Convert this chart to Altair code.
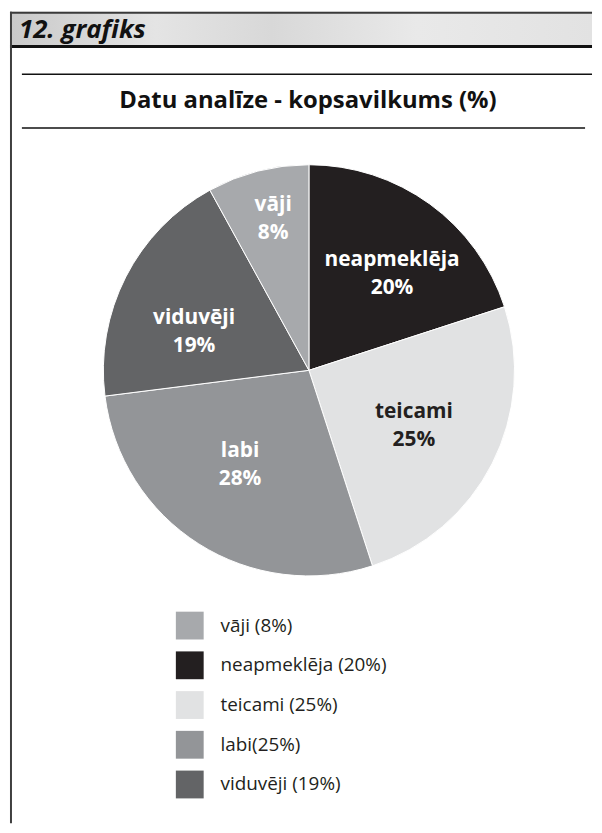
import altair as alt
import pandas as pd

# ---- data ----
categories = ["neapmeklēja", "teicami", "labi", "viduvēji", "vāji"]   # clockwise from 12 o'clock
values = [20, 25, 28, 19, 8]
pct_labels = ["20%", "25%", "28%", "19%", "8%"]
legend_labels = ["\u00a0neapmeklēja (20%)", "teicami (25%)", "labi(25%)", "\u00a0viduvēji (19%)", "vāji (8%)"]
legend_order = ["vāji (8%)", "\u00a0neapmeklēja (20%)", "teicami (25%)", "labi(25%)", "\u00a0viduvēji (19%)"]
legend_colors = ["#a7a9ac", "#231f20", "#e1e2e3", "#939598", "#636466"]

header_text = "12. grafiks"
title_text = "Datu analīze - kopsavilkums (%)"

FONT = "Open Sans"
W, H = 586, 817
CX, CY, R = 301, 361, 207

df = pd.DataFrame({
    "idx": list(range(len(categories))),
    "cat": categories,
    "value": values,
    "pct": pct_labels,
    "legend": legend_labels,
})
df["label"] = df["cat"] + "\n" + df["pct"]

one = pd.DataFrame({"a": [0]})

theta_scale = alt.Scale(domain=[0, 100])

base = alt.Chart(df).transform_window(
    cum="sum(value)", sort=[alt.SortField("idx")], frame=[None, 0]
).transform_calculate(
    start="datum.cum - datum.value",
    mid="datum.cum - datum.value / 2",
)

pie = base.mark_arc(radius=R, stroke="white", strokeWidth=1).encode(
    x=alt.value(CX), y=alt.value(CY),
    theta=alt.Theta("start:Q", scale=theta_scale, stack=False),
    theta2="cum:Q",
    color=alt.Color(
        "legend:N",
        scale=alt.Scale(domain=legend_order, range=legend_colors),
        legend=alt.Legend(
            orient="none", legendX=167, legendY=604, title=None,
            symbolType="square", symbolSize=784, symbolStrokeWidth=0,
            symbolOpacity=1, labelFontSize=19, labelFont=FONT,
            labelColor="#231f20", labelOffset=17, rowPadding=12,
            labelLimit=400, padding=0,
        ),
    ),
)

# label placement style: (radius, dx, dy) per slice label
label_style = {
    "neapmeklēja": (122, 12, -12),
    "teicami": (122, -3, -13),
    "labi": (122, -4, -22),
    "viduvēji": (122, -7, 3),
    "vāji": (157, 3, -14),
}

label_layers = []
for cat, (rad, ddx, ddy) in label_style.items():
    col = "#231f20" if cat == "teicami" else "white"
    label_layers.append(
        base.transform_filter(alt.datum.cat == cat).mark_text(
            radius=rad, dx=ddx, dy=ddy, font=FONT, fontSize=21, fontWeight="bold",
            lineBreak="\n", lineHeight=28, align="center", baseline="middle",
        ).encode(
            x=alt.value(CX), y=alt.value(CY),
            theta=alt.Theta("mid:Q", scale=theta_scale, stack=False),
            text="label:N",
            color=alt.value(col),
        )
    )

# ---- decorations ----
band_grad = alt.LinearGradient(
    gradient="linear", x1=0, x2=1, y1=0, y2=0,
    stops=[
        alt.GradientStop(color="#c9c9c9", offset=0),
        alt.GradientStop(color="#e4e4e4", offset=0.25),
        alt.GradientStop(color="#d8d8d8", offset=0.45),
        alt.GradientStop(color="#e9e9e9", offset=0.7),
        alt.GradientStop(color="#e2e2e2", offset=1),
    ],
)
band = alt.Chart(one).mark_rect(color=band_grad).encode(
    x=alt.value(0), x2=alt.value(W), y=alt.value(0), y2=alt.value(35)
)
band_top = alt.Chart(one).mark_rule(color="#3a3a3a", strokeWidth=2).encode(
    x=alt.value(0), x2=alt.value(W), y=alt.value(1)
)
band_bottom = alt.Chart(one).mark_rule(color="#111111", strokeWidth=3).encode(
    x=alt.value(0), x2=alt.value(W), y=alt.value(35)
)
left_border = alt.Chart(one).mark_rule(color="#3f3f3f", strokeWidth=2).encode(
    x=alt.value(1), y=alt.value(0), y2=alt.value(H)
)
header = alt.Chart(one).mark_text(
    font=FONT, fontSize=26, fontWeight="bold", fontStyle="italic",
    align="left", baseline="alphabetic", color="#111111",
).encode(x=alt.value(9), y=alt.value(26), text=alt.value(header_text))

rule_top = alt.Chart(one).mark_rule(color="#111111", strokeWidth=1.5).encode(
    x=alt.value(12), x2=alt.value(W), y=alt.value(63)
)
rule_bottom = alt.Chart(one).mark_rule(color="#111111", strokeWidth=1.5).encode(
    x=alt.value(12), x2=alt.value(579), y=alt.value(117)
)
title = alt.Chart(one).mark_text(
    font=FONT, fontSize=24, fontWeight="bold", align="center",
    baseline="middle", color="#111111",
).encode(x=alt.value(300), y=alt.value(90), text=alt.value(title_text))

chart = alt.layer(
    band, band_top, band_bottom, left_border, header,
    rule_top, rule_bottom, title,
    pie, *label_layers,
).properties(
    width=W, height=H, padding=0, background="white"
).configure_view(strokeWidth=0)

chart.save("out.html", embed_options={"renderer": "svg", "actions": False})
